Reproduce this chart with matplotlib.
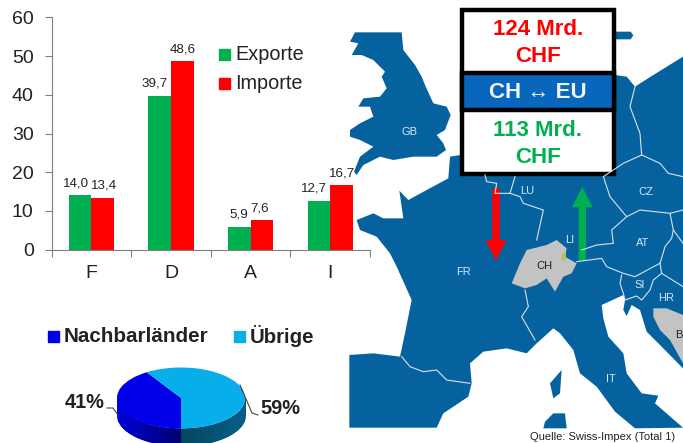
import numpy as np
import matplotlib
matplotlib.use('Agg')
import matplotlib.pyplot as plt
from matplotlib.patches import Polygon, Rectangle, FancyArrow

plt.rcParams['font.family'] = ['Liberation Sans', 'DejaVu Sans']

W, H = 683, 443

# bar chart
countries = ['F', 'D', 'A', 'I']
exporte = [14.0, 39.7, 5.9, 12.7]
importe = [13.4, 48.6, 7.6, 16.7]
yticks = [0, 10, 20, 30, 40, 50, 60]

# pie
pie_names = ['Nachbarländer', 'Übrige']
pie_values = [41, 59]

# box texts
import_text = '124 Mrd.\nCHF'
middle_text = 'CH ↔ EU'
export_text = '113 Mrd.\nCHF'
source_text = 'Quelle: Swiss-Impex (Total 1)'

GREEN = '#00b050'
RED = '#ff0000'
BLUE = '#0000e8'
CYAN = '#08aeea'
MAP = '#05629f'
GREY = '#c3c3c3'
TEXT = '#222222'

# map outlines, in pixels of a 3x crop starting at x=340
gb = [(45,97),(185,97),(190,150),(225,195),(245,230),(255,255),(280,310),(320,320),(332,345),
      (315,390),(290,405),(310,430),(318,450),(290,470),(220,470),(160,480),(120,470),(70,495),
      (50,525),(42,515),(60,470),(100,440),(60,420),(30,410),(30,390),(60,370),(100,350),(90,320),
      (55,320),(70,295),(120,290),(140,265),(125,230),(135,215),(100,180),(65,165),(35,165),
      (55,130),(30,125)]
mainland = [(50,660),(100,640),(130,655),(190,655),(178,572),(205,600),(260,570),(325,535),(330,470),
            (362,465),(362,225),(825,225),(860,230),(885,260),(940,225),(1029,170),(1029,1105),
            (960,1035),(920,995),(900,930),(875,915),(860,948),(850,930),(855,900),(850,885),(785,915),
            (790,955),(805,1010),(850,1060),(860,1120),(905,1180),(955,1187),(945,1210),(1029,1283),
            (885,1285),(825,1235),(770,1160),(720,1120),(700,1050),(660,1000),(640,985),(590,1030),
            (560,1060),(500,1045),(430,1055),(390,1090),(395,1150),(385,1190),(310,1240),(290,1283),
            (28,1283),(28,1065),(100,1060),(180,1070),(195,1000),(215,900),(170,800),(150,760),
            (110,710),(60,690)]
denmark = [(825,95),(872,95),(880,106),(872,118),(825,118)]
corsica = [(665,1110),(660,1180),(640,1195),(630,1150)]
sardinia = [(640,1240),(675,1240),(680,1285),(610,1285),(615,1265)]
swiss = [(515,850),(540,790),(560,750),(620,735),(650,720),(680,745),(675,770),(710,790),(695,820),
         (670,830),(645,875),(620,835),(590,855),(555,865)]
bosnia = [(940,925),(980,925),(1029,945),(1029,1090),(990,1020),(960,990),(940,950)]
borders = [
    [(185,1070),(210,1100),(250,1115),(290,1110),(320,1140),(390,1150)],
    [(435,525),(440,545),(470,550),(465,580),(510,580),(525,530)],
    [(510,580),(540,590),(550,610),(610,630),(590,720)],
    [(555,870),(565,920),(545,950),(585,1020)],
    [(885,260),(870,320),(900,400),(905,465),(850,490),(790,530),(810,590),(860,650),(900,630),(990,640),(1029,630)],
    [(905,465),(960,490),(985,520),(1029,530)],
    [(1000,690),(1029,730)],
    [(860,650),(815,690),(820,730),(770,735),(725,750)],
    [(990,640),(1000,690),(995,715),(975,740),(960,790)],
    [(710,785),(785,775),(800,800),(850,820),(885,830),(950,795),(960,790)],
    [(845,825),(840,850),(850,880),(855,900),(890,888),(905,900),(930,870),(940,840),(965,820),(1029,860)],
    [(960,790),(965,820)],
]
map_labels = [('GB',210,397),('FR',370,817),('LU',563,573),('LI',688,720),('CZ',917,577),('AT',907,730),
              ('SI',899,855),('HR',977,893),('IT',813,1137)]


def px_axes(left, top, width, height):
    return fig.add_axes([left/W, 1-(top+height)/H, width/W, height/H])


fig = plt.figure(figsize=(W/100, H/100), dpi=100)

# bars, above the map so the 16,7 stays readable
ax = px_axes(51.7, 17.3, 318.3, 232.4)
ax.set_zorder(5)
ax.patch.set_visible(False)
x = np.arange(len(countries))
bw = 0.285
ax.bar(x-bw/2, exporte, bw, color=GREEN)
ax.bar(x+bw/2, importe, bw, color=RED)
ax.set_xlim(-0.5, 3.5)
ax.set_ylim(0, 60)
ax.set_yticks(yticks)
ax.set_xticks(np.arange(-0.5, 4))
ax.set_xticklabels([])
ax.set_xticks(x, minor=True)
ax.set_xticklabels(countries, minor=True, fontsize=14, color=TEXT)
ax.tick_params(axis='x', which='minor', length=0, pad=11)
ax.tick_params(axis='x', which='major', length=5, color='#808080')
ax.tick_params(axis='y', length=5, color='#808080', labelsize=14, labelcolor=TEXT, pad=8)
for s in ['top', 'right']:
    ax.spines[s].set_visible(False)
for s in ['left', 'bottom']:
    ax.spines[s].set_color('#808080')
exp_dx = [-4, -5, -1, -5]
imp_dx = [1, 0, -2, 0]
for i in range(len(countries)):
    ax.annotate(f'{exporte[i]:.1f}'.replace('.', ','), (x[i]-bw/2, exporte[i]), xytext=(exp_dx[i], 12),
                textcoords='offset pixels', ha='center', va='center', fontsize=9.6, color=TEXT)
    ax.annotate(f'{importe[i]:.1f}'.replace('.', ','), (x[i]+bw/2, importe[i]), xytext=(imp_dx[i], 12),
                textcoords='offset pixels', ha='center', va='center', fontsize=9.6, color=TEXT)

# overlay in figure pixels for legends and labels
ov = fig.add_axes([0, 0, 1, 1], facecolor='none')
ov.set_xlim(0, W)
ov.set_ylim(H, 0)
ov.axis('off')
ov.add_patch(Rectangle((219, 49), 11, 11, color=GREEN))
ov.add_patch(Rectangle((219, 78), 11, 11, color=RED))
ov.text(235.5, 54, 'Exporte', fontsize=14.3, va='center', color=TEXT)
ov.text(235.5, 83, 'Importe', fontsize=14.3, va='center', color=TEXT)
ov.add_patch(Rectangle((48, 331), 11, 11, color=BLUE))
ov.add_patch(Rectangle((234, 331), 11, 11, color=CYAN))
ov.text(64, 336, pie_names[0], fontsize=14.9, fontweight='bold', va='center', color=TEXT)
ov.text(250, 336, pie_names[1], fontsize=14.7, fontweight='bold', va='center', color=TEXT)
ov.text(65, 402, f'{pie_values[0]}%', fontsize=14.4, fontweight='bold', va='center', color=TEXT)
ov.text(260, 409, f'{pie_values[1]}%', fontsize=14.4, fontweight='bold', va='center', color=TEXT)

# map
mp = px_axes(340, 0, 343, 443)
mp.set_xlim(0, 1029)
mp.set_ylim(1329, 0)
mp.axis('off')
for shape in [gb, mainland, denmark, corsica, sardinia]:
    mp.add_patch(Polygon(shape, closed=True, facecolor=MAP, edgecolor='none'))
for line in borders:
    xs, ys = zip(*line)
    mp.plot(xs, ys, color='#d5e3ee', lw=0.8)
mp.add_patch(Polygon(swiss, closed=True, facecolor=GREY, edgecolor='none'))
mp.add_patch(Polygon(bosnia, closed=True, facecolor=GREY, edgecolor='none'))
mp.add_patch(Rectangle((667, 760), 10, 20, facecolor='#b9c24a', edgecolor='none'))
for name, lx, ly in map_labels:
    mp.text(lx, ly, name, color='#d8e6f0', fontsize=8, ha='center', va='center')
mp.text(612, 798, 'CH', color='#222222', fontsize=8, ha='center', va='center')
mp.text(1015, 1005, 'B', color='#222222', fontsize=8, ha='center', va='center')
mp.add_patch(FancyArrow(468, 565, 0, 217, width=22, head_width=62, head_length=62,
                        length_includes_head=True, color=RED, lw=0))
mp.add_patch(FancyArrow(727, 782, 0, -222, width=22, head_width=62, head_length=62,
                        length_includes_head=True, color=GREEN, lw=0))

# box with the totals
mp.add_patch(Rectangle((366, 29), 455, 492, facecolor='white', edgecolor='black', lw=3.2))
mp.add_patch(Rectangle((366, 219), 455, 110, facecolor='#0866bd', edgecolor='black', lw=3.2))
mp.text(593, 129, import_text, color=RED, fontsize=16, fontweight='bold', ha='center', va='center',
        linespacing=1.4)
mp.text(593, 276, middle_text, color='#eef4fa', fontsize=16, fontweight='bold', ha='center', va='center')
mp.text(593, 432, export_text, color=GREEN, fontsize=16, fontweight='bold', ha='center', va='center',
        linespacing=1.35)
mp.text(787, 1310, source_text, color=TEXT, fontsize=8, ha='center', va='center', clip_on=False)

# pie, squashed into an ellipse with a dark side below it
pa = px_axes(117, 367.5, 128, 97.6)
pa.pie(pie_values, colors=[BLUE, CYAN], startangle=270, counterclock=False, radius=1)
pa.set_aspect('auto')
pa.set_xlim(-1, 1)
pa.set_ylim(-2.2, 1)
pa.set_position([117/W, 1-(367.5+97.6)/H, 128/W, 97.6/H])
depth = 0.55
edges = np.linspace(-1, 1, 81)
for a, b in zip(edges[:-1], edges[1:]):
    xs = np.linspace(a, b, 4)
    low = -np.sqrt(1-xs**2)
    mid = (a+b)/2
    if mid < 0:
        col = (0, 0, 0.42+0.45*abs(mid))
    else:
        col = (0.02, 0.27+0.1*mid, 0.38+0.15*mid)
    pa.fill_between(xs, low-depth, low, facecolor=col, edgecolor=col, lw=0.8, zorder=0)
pa.set_axis_off()

ov2 = fig.add_axes([0, 0, 1, 1], facecolor='none')
ov2.set_xlim(0, W)
ov2.set_ylim(H, 0)
ov2.axis('off')
ov2.plot([107, 113, 118], [408, 408, 415], color='#444444', lw=0.8)
ov2.plot([240, 252, 258], [385, 413, 415], color='#444444', lw=0.8)

fig.savefig('out.png', dpi=100)
